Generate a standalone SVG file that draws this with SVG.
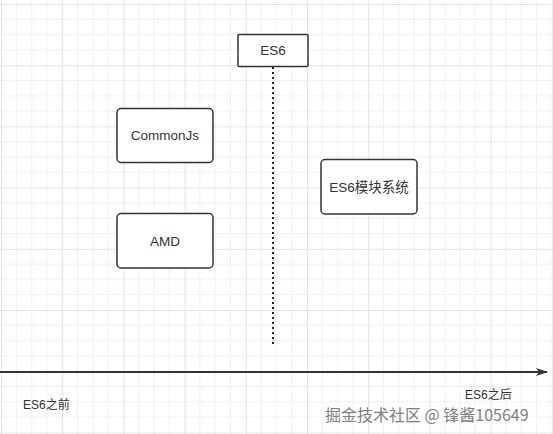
<svg xmlns="http://www.w3.org/2000/svg" width="553" height="434" viewBox="0 0 553 434">
<style>
.box{fill:#fff;stroke:#333;stroke-width:1.5}
.t{font-family:"Liberation Sans","Noto Sans CJK SC",sans-serif;font-size:13.5px;fill:#333;text-anchor:middle;dominant-baseline:central}
.lbl{font-family:"Liberation Sans","Noto Sans CJK SC",sans-serif;font-size:12px;fill:#333;dominant-baseline:central}
.minor{stroke:#f0f0f0;stroke-width:1}
.major{stroke:#e4e4e4;stroke-width:1.2}
</style>
<defs>
<pattern id="grid" patternUnits="userSpaceOnUse" x="1" y="4" width="61.2" height="61.2">
<path class="minor" d="M15.3 0V61.2M30.6 0V61.2M45.9 0V61.2M0 15.3H61.2M0 30.6H61.2M0 45.9H61.2"/>
<path class="major" d="M0.5 0V61.2M0 0.5H61.2"/>
</pattern>
<marker id="arr" markerWidth="12" markerHeight="8" refX="11" refY="4" orient="auto" markerUnits="userSpaceOnUse">
<path d="M0 0L12 4L0 8L3 4Z" fill="#333"/>
</marker>
</defs>
<rect width="553" height="434" fill="#fff"/>
<rect width="553" height="434" fill="url(#grid)"/>
<g id="connectors">
<line x1="273" y1="67" x2="273" y2="346" stroke="#222" stroke-width="2" stroke-dasharray="2 3"/>
<line x1="0" y1="372" x2="547" y2="372" stroke="#333" stroke-width="2" marker-end="url(#arr)"/>
</g>
<g id="es6">
<rect class="box" x="238" y="34.5" width="70" height="32" rx="1"/>
<text class="t" x="273" y="50.5">ES6</text>
</g>
<g id="commonjs">
<rect class="box" x="117" y="108.5" width="96" height="54" rx="4"/>
<text class="t" x="165" y="135.5">CommonJs</text>
</g>
<g id="amd">
<rect class="box" x="117" y="213.5" width="96" height="54.5" rx="4"/>
<text class="t" x="165" y="241">AMD</text>
</g>
<g id="es6modules">
<rect class="box" x="321" y="159.5" width="96" height="54.5" rx="4"/>
<text class="t" x="369" y="187">ES6模块系统</text>
</g>
<g id="labels">
<text class="lbl" x="23" y="405">ES6之前</text>
<text class="lbl" x="465" y="395">ES6之后</text>
<text x="325" y="413.5" font-family="'Noto Sans CJK SC',sans-serif" font-size="16px" fill="#808080" dominant-baseline="central">掘金技术社区 @ 锋酱105649</text>
</g>
</svg>
